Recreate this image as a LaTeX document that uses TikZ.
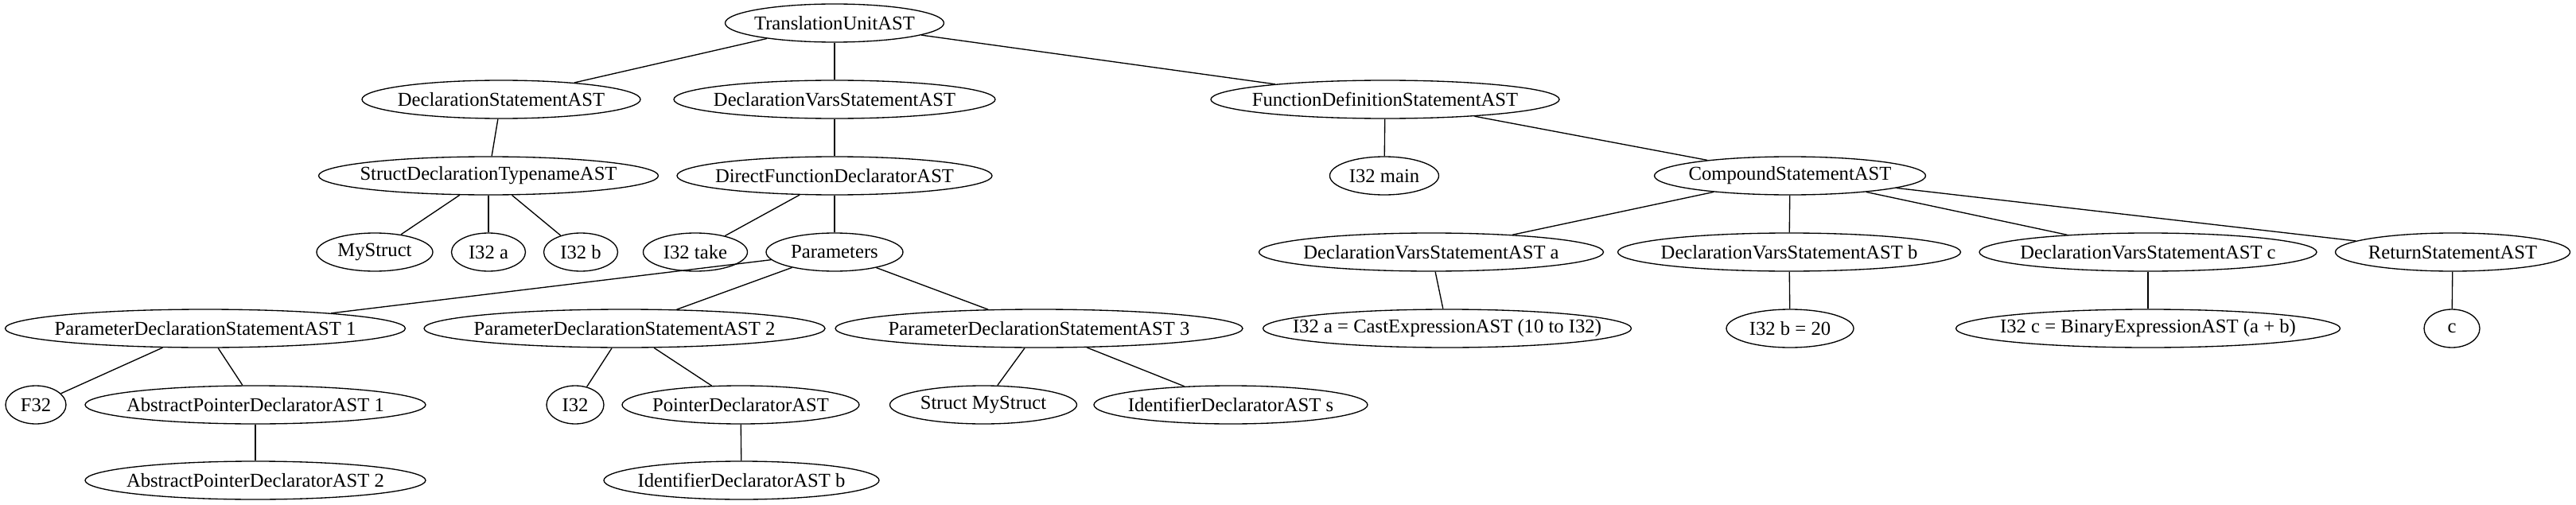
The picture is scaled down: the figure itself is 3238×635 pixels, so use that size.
\documentclass[tikz,border=0pt]{standalone}
\usepackage{fontspec}
\setmainfont{Liberation Serif}
\usetikzlibrary{shapes.geometric}

\tikzset{
  astnode/.style={draw, ellipse, inner xsep=-80pt, inner ysep=0pt, minimum height=36pt,
    minimum width=#1*0.75pt, font=\fontsize{18.5}{22}\selectfont},
  astedge/.style={line width=1pt}
}

\begin{document}
\begin{tikzpicture}[x=0.75pt, y=-0.75pt, line width=1pt]
  \useasboundingbox (0,0) rectangle (3238,635);

  % Root
  \node[astnode=275] (tu) at (1049,29) {TranslationUnitAST};

  % Top level statements
  \node[astnode=350] (decl_stmt) at (630,125) {DeclarationStatementAST};
  \node[astnode=404] (decl_vars) at (1049,125) {DeclarationVarsStatementAST};
  \node[astnode=438] (func_def) at (1741,125) {FunctionDefinitionStatementAST};

  % Struct declaration
  \node[astnode=427] (struct_decl) at (614,221) {StructDeclarationTypenameAST};
  \node[astnode=146] (mystruct) at (471,317) {MyStruct};
  \node[astnode=93] (i32_a) at (614,317) {I32 a};
  \node[astnode=93] (i32_b) at (730,317) {I32 b};

  % Function declarator take
  \node[astnode=396] (direct_func) at (1049,221) {DirectFunctionDeclaratorAST};
  \node[astnode=131] (i32_take) at (874,317) {I32 take};
  \node[astnode=172] (params) at (1049,317) {Parameters};

  % Parameters
  \node[astnode=503] (pds1) at (258,413) {ParameterDeclarationStatementAST 1};
  \node[astnode=504] (pds2) at (785,413) {ParameterDeclarationStatementAST 2};
  \node[astnode=512] (pds3) at (1306,413) {ParameterDeclarationStatementAST 3};
  \node[astnode=76] (f32) at (45,509) {F32};
  \node[astnode=428] (abs_ptr1) at (321,509) {AbstractPointerDeclaratorAST 1};
  \node[astnode=428] (abs_ptr2) at (321,604) {AbstractPointerDeclaratorAST 2};
  \node[astnode=72] (i32) at (723,509) {I32};
  \node[astnode=298] (ptr_decl) at (931,509) {PointerDeclaratorAST};
  \node[astnode=346] (ident_b) at (932,604) {IdentifierDeclaratorAST b};
  \node[astnode=235] (struct_mystruct) at (1236,509) {Struct MyStruct};
  \node[astnode=344] (ident_s) at (1547,509) {IdentifierDeclaratorAST s};

  % Function main
  \node[astnode=137] (i32_main) at (1740,221) {I32 main};
  \node[astnode=341] (compound) at (2250,221) {CompoundStatementAST};
  \node[astnode=433] (dvs_a) at (1799,317) {DeclarationVarsStatementAST a};
  \node[astnode=431] (dvs_b) at (2249,317) {DeclarationVarsStatementAST b};
  \node[astnode=424] (dvs_c) at (2700,317) {DeclarationVarsStatementAST c};
  \node[astnode=295] (ret_stmt) at (3083,317) {ReturnStatementAST};
  \node[astnode=463] (cast_a) at (1819,413) {I32 a = CastExpressionAST (10 to I32)};
  \node[astnode=160] (i32_b20) at (2250,413) {I32 b = 20};
  \node[astnode=483] (binary_c) at (2700,413) {I32 c = BinaryExpressionAST (a + b)};
  \node[astnode=70] (ret_c) at (3082,413) {c};

  % Edges
  \draw[astedge] (tu) -- (decl_stmt);
  \draw[astedge] (tu) -- (decl_vars);
  \draw[astedge] (tu) -- (func_def);
  \draw[astedge] (decl_stmt) -- (struct_decl);
  \draw[astedge] (struct_decl) -- (mystruct);
  \draw[astedge] (struct_decl) -- (i32_a);
  \draw[astedge] (struct_decl) -- (i32_b);
  \draw[astedge] (decl_vars) -- (direct_func);
  \draw[astedge] (direct_func) -- (i32_take);
  \draw[astedge] (direct_func) -- (params);
  \draw[astedge] (params) -- (pds1);
  \draw[astedge] (params) -- (pds2);
  \draw[astedge] (params) -- (pds3);
  \draw[astedge] (pds1) -- (f32);
  \draw[astedge] (pds1) -- (abs_ptr1);
  \draw[astedge] (abs_ptr1) -- (abs_ptr2);
  \draw[astedge] (pds2) -- (i32);
  \draw[astedge] (pds2) -- (ptr_decl);
  \draw[astedge] (ptr_decl) -- (ident_b);
  \draw[astedge] (pds3) -- (struct_mystruct);
  \draw[astedge] (pds3) -- (ident_s);
  \draw[astedge] (func_def) -- (i32_main);
  \draw[astedge] (func_def) -- (compound);
  \draw[astedge] (compound) -- (dvs_a);
  \draw[astedge] (compound) -- (dvs_b);
  \draw[astedge] (compound) -- (dvs_c);
  \draw[astedge] (compound) -- (ret_stmt);
  \draw[astedge] (dvs_a) -- (cast_a);
  \draw[astedge] (dvs_b) -- (i32_b20);
  \draw[astedge] (dvs_c) -- (binary_c);
  \draw[astedge] (ret_stmt) -- (ret_c);
\end{tikzpicture}
\end{document}
